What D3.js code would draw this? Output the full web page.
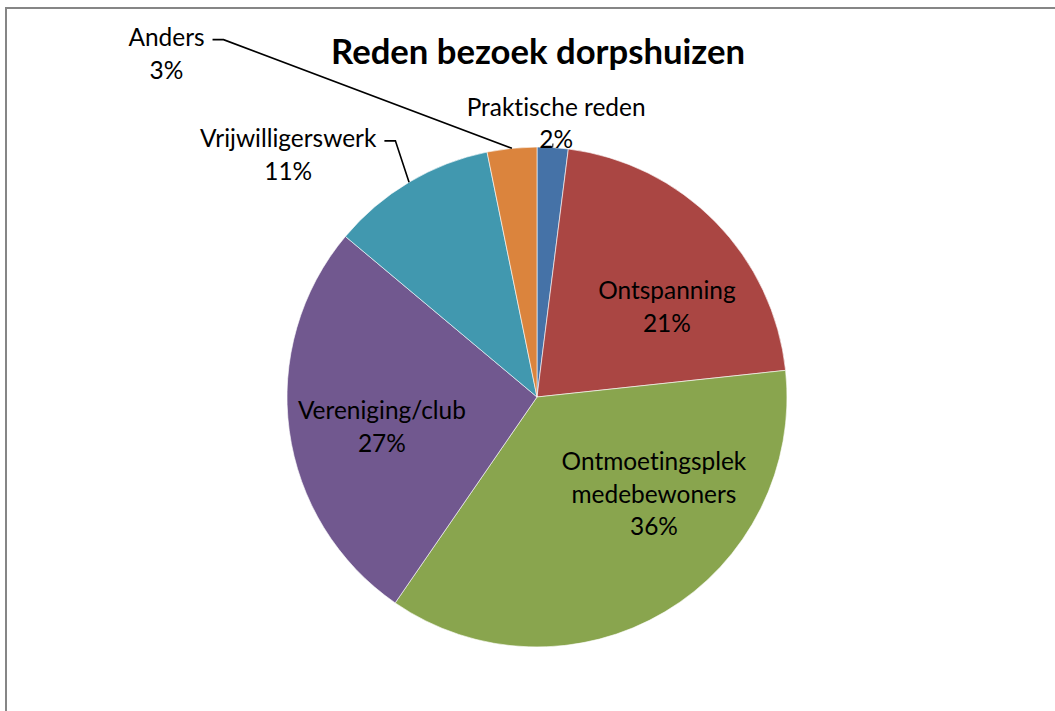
<!DOCTYPE html>
<html>
<head>
<meta charset="utf-8">
<script src="https://cdn.jsdelivr.net/npm/d3@7"></script>
<style>
  html, body { margin: 0; padding: 0; background: #fff; overflow: hidden; }
  text { font-family: Lato, "Open Sans", sans-serif; fill: #000; font-variant-ligatures: none; }
</style>
</head>
<body>
<div id="chart"></div>
<script>
// data (shares, labels show them rounded)
const categories = ["Praktische reden", "Ontspanning", "Ontmoetingsplek medebewoners", "Vereniging/club", "Vrijwilligerswerk", "Anders"];
const labelLines = [["Praktische reden"], ["Ontspanning"], ["Ontmoetingsplek", "medebewoners"], ["Vereniging/club"], ["Vrijwilligerswerk"], ["Anders"]];
const values = [2.0, 21.3, 36.3, 26.5, 10.7, 3.2];
const colors = ["#4572A7", "#AA4643", "#89A54E", "#71588F", "#4198AF", "#DB843D"];

const width = 1055, height = 711;
const cx = 537, cy = 397, R = 250;
const lineH = 32.5;

// label block centre, polar (degrees clockwise from top, distance from centre)
const labelAt = [[4, 274], [55.3, 158], [129.7, 152], [259, 158], [314.2, 347], [312.8, 505]];
const leader = ["tick", null, null, null, "elbow", "elbow"];

const svg = d3.select("#chart").append("svg")
  .attr("width", width)
  .attr("height", height);

svg.append("rect")
  .attr("x", 6).attr("y", 8)
  .attr("width", width + 50).attr("height", height + 50)
  .attr("fill", "#fff")
  .attr("stroke", "#868686")
  .attr("stroke-width", 2);

// title, sized to its width in the reference
const title = svg.append("text")
  .attr("x", cx + 1)
  .attr("y", 64)
  .attr("text-anchor", "middle")
  .attr("font-weight", "bold")
  .attr("font-size", 100)
  .text("Reden bezoek dorpshuizen");
title.attr("font-size", 100 * 414 / title.node().getComputedTextLength());

const pie = d3.pie().sort(null).value(d => d)(values);
const arc = d3.arc().innerRadius(0).outerRadius(R);

const g = svg.append("g").attr("transform", `translate(${cx},${cy})`);

g.selectAll("path.slice")
  .data(pie)
  .enter()
  .append("path")
  .attr("class", "slice")
  .attr("d", arc)
  .attr("fill", (d, i) => colors[i])
  .attr("stroke", "rgba(255,255,255,0.6)")
  .attr("stroke-width", 1);

// label font size: fit "Praktische reden" to ~179px
const probe = svg.append("text").attr("font-size", 100).text("Praktische reden");
const fs = 100 * 179 / probe.node().getComputedTextLength();
probe.remove();

const rad = a => a * Math.PI / 180;

pie.forEach((d, i) => {
  const pos = d3.pointRadial(rad(labelAt[i][0]), labelAt[i][1]);
  const lines = labelLines[i].concat([Math.round(values[i]) + "%"]);
  const t = g.append("text")
    .attr("text-anchor", "middle")
    .attr("font-size", fs);
  lines.forEach((ln, k) => {
    t.append("tspan")
      .attr("x", pos[0])
      .attr("y", pos[1] + (k - (lines.length - 1) / 2) * lineH)
      .attr("dy", "0.35em")
      .text(ln);
  });

  const mid = (d.startAngle + d.endAngle) / 2;
  const onArc = d3.pointRadial(mid, R);
  if (leader[i] === "elbow") {
    const firstY = pos[1] - (lines.length - 1) / 2 * lineH + 2;
    let w = 0;
    t.selectAll("tspan").each(function (_, k) {
      if (k === 0) w = this.getComputedTextLength();
    });
    const x0 = pos[0] + w / 2 + 8;
    g.append("path")
      .attr("d", d3.line()([[x0, firstY], [x0 + 11, firstY], onArc]))
      .attr("fill", "none")
      .attr("stroke", "#000")
      .attr("stroke-width", 1.6);
  } else if (leader[i] === "tick") {
    g.append("path")
      .attr("d", d3.line()([d3.pointRadial(mid, R + 4), onArc]))
      .attr("fill", "none")
      .attr("stroke", "#000")
      .attr("stroke-width", 1);
  }
});
</script>
</body>
</html>
